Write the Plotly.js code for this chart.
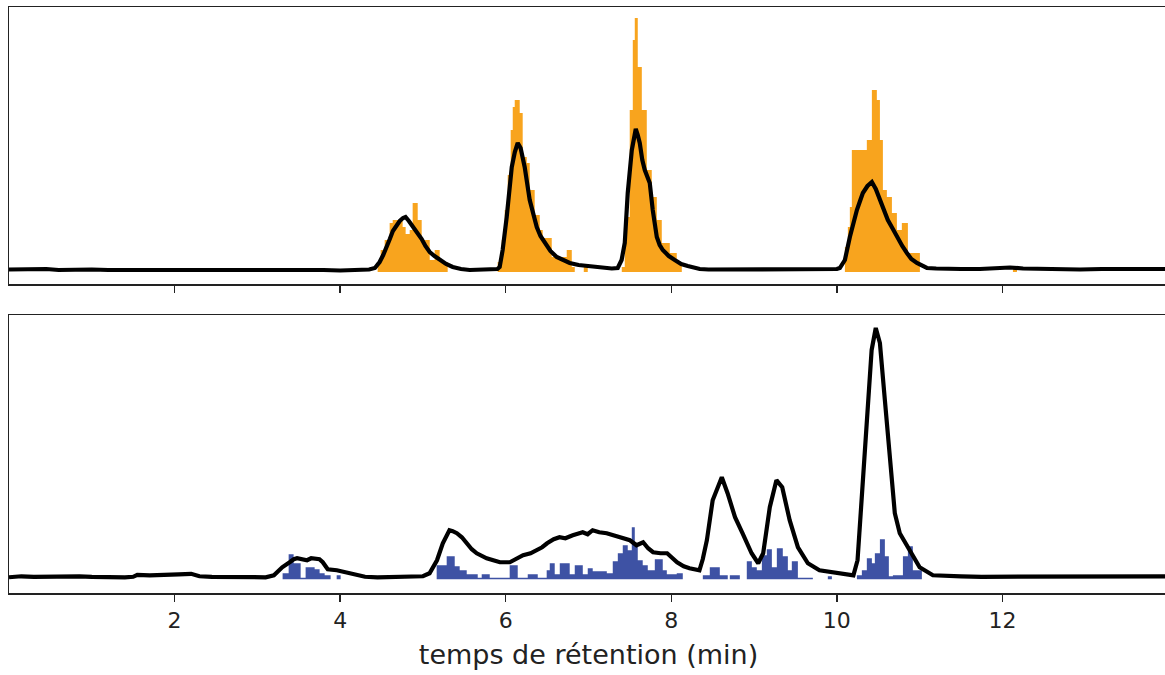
<!DOCTYPE html>
<html>
<head>
<meta charset="utf-8">
<script src="https://cdn.plot.ly/plotly-3.0.1.min.js"></script>
<style>
html,body{margin:0;padding:0;overflow:hidden;background:#fff;}
#chart{width:1180px;height:675px;}
</style>
</head>
<body>
<div id="chart"></div>
<script>
// Top panel: chromatogram (black) and orange histogram
const topTime = [0.0,0.15,0.3,0.45,0.6,0.8,1.0,1.2,1.5,1.75,2.0,2.25,2.5,2.75,3.0,3.15,3.3,3.45,3.6,3.8,4.0,4.2,4.35,4.42,4.45,4.477,4.52,4.565,4.6,4.637,4.68,4.72,4.76,4.79,4.83,4.876,4.93,4.985,5.03,5.082,5.14,5.202,5.28,5.36,5.46,5.565,5.66,5.746,5.82,5.867,5.9,5.927,5.963,6.012,6.073,6.11,6.145,6.18,6.229,6.29,6.33,6.375,6.42,6.471,6.54,6.616,6.69,6.773,6.88,6.979,7.06,7.136,7.21,7.281,7.353,7.4,7.438,7.474,7.523,7.55,7.571,7.595,7.619,7.65,7.68,7.74,7.776,7.825,7.86,7.897,7.97,8.042,8.12,8.199,8.27,8.344,8.45,8.586,8.75,8.9,9.069,9.25,9.4,9.553,9.75,9.915,10.0,10.036,10.097,10.157,10.2,10.242,10.28,10.314,10.37,10.423,10.47,10.52,10.57,10.616,10.67,10.725,10.79,10.846,10.9,10.967,11.03,11.088,11.2,11.305,11.5,11.728,11.9,12.091,12.25,12.453,12.7,12.937,13.2,13.42,13.7,13.964,14.0];
const topSignal = [2.5,3,2.5,3,2,2.5,2.5,2,2,2.5,2,2,2.5,2,2.5,2.5,3,2.5,2,2,1.5,1.5,2.5,4,7,10,17,25,33,41,47,51,54,55,51,46,39,33,26,20,16,12,8,5,3,2,2,2,2.5,2.5,3,5,22,55,105,120,129,124,105,72,58,45,36,29,21,15,12,9,7,6,5,4,3.5,3.5,4,12,29,79,122,136,143,137,129,112,102,89,62,35,27,22,16,12,8,6,4,3,2.5,2.5,2,2.5,2,2,2.5,2,2,2.5,3,4,12,35,50,62,71,79,86,90,83,72,62,52,44,35,26,19,13,9,6,4,3.5,3,3,3,3.5,4.5,3.5,3,3,2.5,3,3,2.5,3,3];
const orangeTime = [4.453,4.489,4.538,4.598,4.635,4.755,4.791,4.84,4.876,4.937,4.985,5.082,5.142,5.202,5.299,
  5.903,5.952,5.988,6.024,6.06,6.085,6.109,6.169,6.205,6.254,6.29,6.35,6.411,6.447,6.556,6.737,6.798,6.834,
  6.943,6.991,
  7.402,7.438,7.462,7.498,7.535,7.559,7.595,7.644,7.704,7.764,7.825,7.885,7.982,8.066,8.127,
  10.097,10.133,10.157,10.181,10.362,10.423,10.483,10.52,10.556,10.604,10.665,10.725,10.785,10.858,11.003,
  12.127,12.175];
const orangeCount = [10,22,32,49,52,45,38,42,69,52,32,12,22,10,0,
  10,32,62,97,142,165,172,159,115,109,82,57,42,34,15,22,5,0,
  7,0,
  5,30,55,162,232,254,205,162,102,75,52,29,19,10,0,
  25,45,65,122,132,182,172,132,82,75,59,42,49,19,0,
  4,0];

// Bottom panel: chromatogram (black) and blue histogram
const bottomTime = [0.0,0.15,0.3,0.5,0.7,0.85,1.0,1.2,1.4,1.5,1.55,1.7,1.9,2.05,2.2,2.3,2.45,2.6,2.75,2.9,3.0,3.1,3.2,3.3,3.39,3.44,3.48,3.55,3.6,3.65,3.7,3.75,3.79,3.85,3.96,4.08,4.2,4.3,4.45,4.6,4.75,4.9,5.0,5.08,5.17,5.24,5.32,5.36,5.41,5.47,5.53,5.59,5.65,5.71,5.77,5.85,5.93,6.05,6.13,6.21,6.3,6.38,6.44,6.5,6.58,6.65,6.72,6.81,6.87,6.93,6.99,7.05,7.13,7.22,7.3,7.38,7.44,7.5,7.58,7.66,7.72,7.78,7.87,7.95,8.07,8.15,8.22,8.34,8.38,8.43,8.5,8.61,8.68,8.77,8.86,8.97,9.05,9.11,9.19,9.27,9.34,9.43,9.53,9.65,9.79,10.0,10.2,10.25,10.3,10.36,10.42,10.47,10.52,10.58,10.64,10.7,10.76,10.88,11.0,11.16,11.35,11.5,11.75,12.0,12.25,12.5,12.75,13.0,13.25,13.5,13.75,14.0];
const bottomSignal = [2,3,2.5,3,2.5,3,2.5,2,2,2.5,4.5,4,4,5,5.5,3,2.5,2.5,3,2.5,2,2,4,12,17,20,21,20,19,21,20,20,17,10,9,7,4,2.5,2,2,2.5,2,3,6,19,36,49,48,46,42,36,30,26,23,21,19,17,17,20,24,26,29,32,36,40,42,41,44,46,47,45,49,47,46,44,42,41,39,34,37,31,27,26,26,17,13,11,9,20,39,79,102,86,62,46,26,16,26,72,99,92,59,32,16,9,6,4,19,79,162,229,251,236,179,119,66,46,29,12,4,3,3,2.5,2.5,2,2.5,2,2,2.5,2,2.5,3];
const blueTime = [3.305,3.378,3.438,3.523,3.583,3.692,3.752,3.813,3.885,3.958,4.006,
  5.166,5.287,5.384,5.444,5.529,5.662,5.71,5.807,6.048,6.145,6.266,6.387,6.495,6.532,6.592,6.653,6.773,6.834,6.931,6.991,7.051,7.221,7.293,7.354,7.414,7.474,7.523,7.559,7.595,7.655,7.716,7.801,7.897,7.946,8.066,8.139,
  8.381,8.465,8.586,8.682,8.707,8.828,8.912,8.973,9.033,9.094,9.154,9.215,9.275,9.347,9.408,9.456,9.529,9.71,
  9.891,9.94,
  10.242,10.302,10.362,10.423,10.459,10.52,10.58,10.628,10.677,10.798,10.858,10.918,11.027];
const blueCount = [6,25,16,1.5,12,10,6,4,0,4,0,
  14,23,13,9,5,1.5,5,1.5,14,1.5,5,1.5,9,16,5,16,5,14,5,11,8,6,18,26,34,29,52,36,19,14,9,20,9,5,6,0,
  4,12,4,0,4,0,18,12,9,24,30,12,31,23,9,18,1.5,0,
  3,0,
  4,9,21,16,26,40,23,3,4,23,33,9,0];

const tickValues = [2,4,6,8,10,12];
const xLabel = 'temps de rétention (min)';

const orange = '#F8A41E';
const blue = '#3E52A4';
const frame = '#222222';

const traces = [
  {x: orangeTime, y: orangeCount, type:'scatter', mode:'lines', line:{shape:'hv', width:0, color:orange}, fill:'tozeroy', fillcolor:orange, xaxis:'x', yaxis:'y', hoverinfo:'skip'},
  {x: topTime, y: topSignal, type:'scatter', mode:'lines', line:{color:'#000', width:4.2}, xaxis:'x', yaxis:'y'},
  {x: blueTime, y: blueCount, type:'scatter', mode:'lines', line:{shape:'hv', width:0, color:blue}, fill:'tozeroy', fillcolor:blue, xaxis:'x2', yaxis:'y2', hoverinfo:'skip'},
  {x: bottomTime, y: bottomSignal, type:'scatter', mode:'lines', line:{color:'#000', width:4.2}, xaxis:'x2', yaxis:'y2'}
];

const axisBase = {showline:true, linecolor:frame, linewidth:1.5, mirror:true, showgrid:false, zeroline:false};

const layout = {
  width:1180, height:675,
  margin:{l:9, r:12, t:7, b:82},
  paper_bgcolor:'#fff', plot_bgcolor:'#fff',
  showlegend:false,
  font:{family:'DejaVu Sans, sans-serif', color:'#222', size:20},
  xaxis: Object.assign({}, axisBase, {domain:[0,1], range:[0,14], anchor:'y', tickvals:tickValues, showticklabels:false, ticks:'outside', ticklen:7, tickwidth:1.5, tickcolor:frame}),
  yaxis: Object.assign({}, axisBase, {domain:[0.5273,1], range:[-12,265], anchor:'x', showticklabels:false, ticks:''}),
  xaxis2: Object.assign({}, axisBase, {domain:[0,1], range:[0,14], anchor:'y2', tickvals:tickValues, ticks:'outside', ticklen:7, tickwidth:1.5, tickcolor:frame, tickfont:{size:22, color:'#222'}, title:{text:xLabel, font:{size:27, color:'#222'}, standoff:13}}),
  yaxis2: Object.assign({}, axisBase, {domain:[0,0.4744], range:[-13.7,264], anchor:'x2', showticklabels:false, ticks:''})
};

Plotly.newPlot('chart', traces, layout, {displayModeBar:false, staticPlot:true});
</script>
</body>
</html>
